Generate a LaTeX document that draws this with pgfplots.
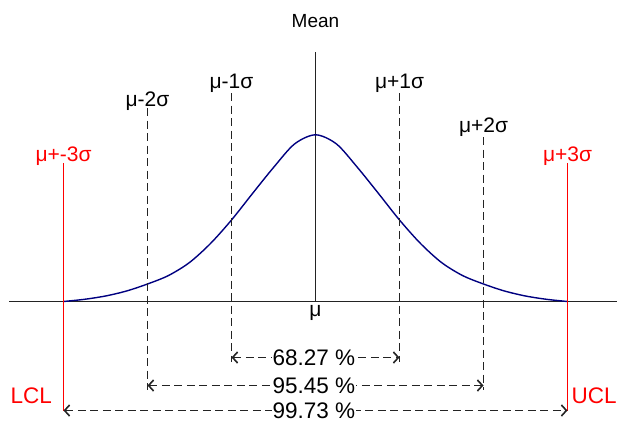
\documentclass[border=0pt]{standalone}
\usepackage{pgfplots}
\pgfplotsset{compat=1.18}
\usepackage{fontspec}
\setmainfont{Liberation Sans}
\usetikzlibrary{arrows.meta}

\definecolor{curveblue}{RGB}{0,0,128}
\definecolor{linegray}{RGB}{35,35,35}

% x in units of sigma (mu = 0), y = height above the baseline
\newcommand{\lblfont}{\fontsize{21}{24}\selectfont}
\newcommand{\pctfont}{\fontsize{22.5}{26}\selectfont}

\begin{document}
\begin{tikzpicture}
\begin{axis}[
  name=ax,
  width=617pt, height=421pt, scale only axis,
  xmin=-3.75595, xmax=3.58929,
  ymin=-119.5, ymax=301.5,
  hide axis, clip=false,
  dline/.style={linegray, line width=1.6pt, dash pattern=on 8pt off 4.5pt},
  darrow/.style={dline, {Straight Barb[length=5pt,width=11pt]}-{Straight Barb[length=5pt,width=11pt]}},
]
% baseline and mean
\addplot[linegray, line width=1.6pt] coordinates {(-3.643,0) (3.58929,0)};
\addplot[linegray, line width=1.6pt] coordinates {(0,0) (0,249.5)};

% bell curve
\addplot[curveblue, line width=1.4pt, smooth] table {
x y
-3.00 0
-2.75 2.2
-2.50 5.5
-2.25 10.5
-2.00 17.5
-1.75 26
-1.50 39
-1.25 58
-1.00 81.5
-0.75 108
-0.50 134
-0.25 157.5
0.00 166.7
0.25 157.5
0.50 134
0.75 108
1.00 81.5
1.25 58
1.50 39
1.75 26
2.00 17.5
2.25 10.5
2.50 5.5
2.75 2.2
3.00 0
};

% sigma limits
\addplot[dline] coordinates {(-1,208.5) (-1,-60.5)};
\addplot[dline] coordinates {(1,208.5) (1,-60.5)};
\addplot[dline] coordinates {(-2,193.5) (-2,-88.5)};
\addplot[dline] coordinates {(2,164.5) (2,-88.5)};
\addplot[red, line width=1.5pt] coordinates {(-3,138.5) (-3,-109.5)};
\addplot[red, line width=1.5pt] coordinates {(3,138.5) (3,-109.5)};

% coverage arrows
\addplot[darrow] coordinates {(-1,-56) (1,-56)};
\addplot[darrow] coordinates {(-2,-84) (2,-84)};
\addplot[darrow] coordinates {(-3,-109) (3,-109)};

\node[anchor=base, font=\fontsize{19}{22}\selectfont] at (axis cs:0,273.5) {Mean};
\node[anchor=base, font=\lblfont] at (axis cs:-1,213.5) {μ-1σ};
\node[anchor=base, font=\lblfont] at (axis cs:1,213.5) {μ+1σ};
\node[anchor=base, font=\lblfont] at (axis cs:-2,195.5) {μ-2σ};
\node[anchor=base, font=\lblfont] at (axis cs:2,169.5) {μ+2σ};
\node[anchor=base, font=\lblfont, text=red] at (axis cs:-3,140.5) {μ+-3σ};
\node[anchor=base, font=\lblfont, text=red] at (axis cs:3,140.5) {μ+3σ};
\node[anchor=base, font=\lblfont] at (axis cs:0,-14.5) {μ};

\node[fill=white, inner xsep=1pt, inner ysep=0pt, font=\pctfont] at (axis cs:-0.02,-56) {68.27 \%};
\node[fill=white, inner xsep=1pt, inner ysep=0pt, font=\pctfont] at (axis cs:-0.02,-84) {95.45 \%};
\node[fill=white, inner xsep=1pt, inner ysep=0pt, font=\pctfont] at (axis cs:-0.02,-109) {99.73 \%};

\node[anchor=base east, inner sep=0pt, font=\pctfont, text=red] at (axis cs:-3.137,-101.5) {LCL};
\node[anchor=base west, inner sep=0pt, font=\pctfont, text=red] at (axis cs:3.048,-101.5) {UCL};
\end{axis}
\pgfresetboundingbox
\path (ax.south west) rectangle (ax.north east);
\end{tikzpicture}
\end{document}
